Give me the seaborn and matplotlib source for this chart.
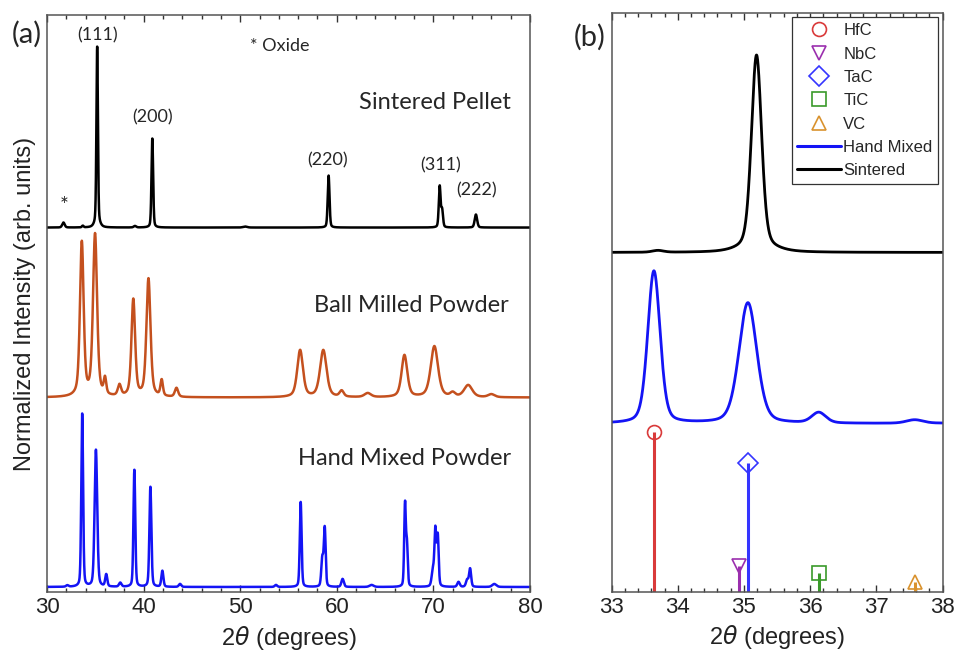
import numpy as np
import pandas as pd
import matplotlib.pyplot as plt
import seaborn as sns
from matplotlib.lines import Line2D
from matplotlib.ticker import MultipleLocator

#%% peak lists: 2theta, height (arb.), fwhm (deg)

sint_pos = [31.7, 33.7, 35.19, 35.2, 39.1, 40.9, 50.5, 59.15, 70.65, 70.9, 74.4]
sint_h = [5, 1.7, 176, 5, 1.5, 89, 1, 52, 41, 17, 13]
sint_w = [0.3, 0.2, 0.18, 0.6, 0.3, 0.2, 0.5, 0.22, 0.22, 0.22, 0.3]

ball_pos = [33.6, 34.97, 36.0, 37.5, 38.93, 40.5, 41.87, 43.4, 56.2, 58.6, 60.5,
            63.2, 67.0, 70.1, 72.0, 73.6, 76.0]
ball_h = [154, 162, 16, 11, 97, 118, 16, 9, 47, 47, 6, 4, 42, 51, 4, 12, 3]
ball_w = [0.45, 0.5, 0.3, 0.4, 0.45, 0.5, 0.3, 0.4, 0.7, 0.8, 0.5, 0.8, 0.7, 0.9,
          0.6, 1.0, 0.8]

hand_pos = [32.1, 33.64, 35.06, 36.13, 37.58, 39.04, 40.7, 41.94, 43.77, 53.7,
            56.26, 58.5, 58.75, 60.6, 63.6, 67.06, 67.26, 69.95, 70.2, 70.45,
            72.6, 73.5, 73.8, 76.3]
hand_h = [1.5, 173, 137, 12, 4, 117, 100, 16, 3, 2, 85, 28, 58, 8, 2, 82, 40,
          16, 55, 50, 5, 7, 18, 3]
hand_w = [0.3, 0.22, 0.32, 0.25, 0.3, 0.22, 0.24, 0.25, 0.3, 0.3, 0.22, 0.25,
          0.22, 0.3, 0.5, 0.2, 0.2, 0.3, 0.22, 0.22, 0.3, 0.3, 0.25, 0.5]

# offsets of the stacked patterns
base_a = {'Sintered Pellet': 365, 'Ball Milled Powder': 195, 'Hand Mixed Powder': 5.5}
base_b = {'Hand Mixed': 168, 'Sintered': 339}
scale_b = {'Hand Mixed': 0.88, 'Sintered': 1.09}

# reference carbide lines, panel (b)
ref_names = ['HfC', 'NbC', 'TaC', 'TiC', 'VC']
ref_pos = [33.64, 34.93, 35.06, 36.13, 37.59]
ref_int = [160, 26, 129, 18.7, 10.3]
ref_colors = ['#d93a3a', '#9b2fae', '#3535ff', '#3a9a2a', '#d9922e']
ref_markers = ['o', 'v', 'D', 's', '^']

c_sint = 'black'
c_ball = '#c4501e'
c_hand = '#1414f5'


def perfil(x, pos, h, w, eta=0.5):
    y = np.zeros_like(x)
    for p, a, fw in zip(pos, h, w):
        d = (x - p) / fw
        g = np.exp(-4 * np.log(2) * d ** 2)
        l = 1 / (1 + 4 * d ** 2)
        y += a * (eta * l + (1 - eta) * g)
    return y


#%% figure
sns.set_style('ticks')
plt.rcParams['font.family'] = ['Liberation Sans', 'DejaVu Sans']
plt.rcParams['mathtext.fontset'] = 'dejavusans'

fig = plt.figure(figsize=(9.56, 6.62), dpi=100)
ax1 = fig.add_axes([0.0492, 0.105, 0.5052, 0.873])
ax2 = fig.add_axes([0.6397, 0.106, 0.3462, 0.874])

xa = np.linspace(30, 80, 6001)
df_a = pd.DataFrame({
    'x': np.concatenate([xa] * 3),
    'y': np.concatenate([
        base_a['Sintered Pellet'] + perfil(xa, sint_pos, sint_h, sint_w, 0.3),
        base_a['Ball Milled Powder'] + perfil(xa, ball_pos, ball_h, ball_w, 0.5),
        base_a['Hand Mixed Powder'] + perfil(xa, hand_pos, hand_h, hand_w, 0.3)]),
    'muestra': np.repeat(['Sintered Pellet', 'Ball Milled Powder', 'Hand Mixed Powder'], len(xa))
})
sns.lineplot(data=df_a, x='x', y='y', hue='muestra', estimator=None, sort=False,
             palette=[c_sint, c_ball, c_hand], linewidth=1.8, legend=False, ax=ax1)

xb = np.linspace(33, 38, 3001)
df_b = pd.DataFrame({
    'x': np.concatenate([xb] * 2),
    'y': np.concatenate([
        base_b['Hand Mixed'] + scale_b['Hand Mixed'] * perfil(xb, hand_pos, hand_h, hand_w, 0.3),
        base_b['Sintered'] + scale_b['Sintered'] * perfil(xb, sint_pos, sint_h, sint_w, 0.3)]),
    'muestra': np.repeat(['Hand Mixed', 'Sintered'], len(xb))
})
sns.lineplot(data=df_b, x='x', y='y', hue='muestra', estimator=None, sort=False,
             palette=[c_hand, c_sint], linewidth=2.0, legend=False, ax=ax2)

for p, h, c, m in zip(ref_pos, ref_int, ref_colors, ref_markers):
    ax2.vlines(p, 0, h, color=c, linewidth=2.2)
    ax2.plot([p], [h], marker=m, ms=10, mfc='none', mec=c, mew=1.2, ls='none')

#%% axes styling
for ax in (ax1, ax2):
    ax.set_ylim(0, 578)
    ax.set_yticks([])
    ax.set_ylabel('')
    ax.tick_params(axis='x', which='both', direction='in', top=True, labelsize=16,
                   colors='#333333', labelcolor='#222222')
    ax.tick_params(axis='x', which='major', length=5, width=1)
    ax.tick_params(axis='x', which='minor', length=3, width=1)
    for s in ax.spines.values():
        s.set_color('#555555')
        s.set_linewidth(1.1)
    ax.set_xlabel(r'2$\theta$ (degrees)', fontsize=17, color='#222222')

ax1.set_xlim(30, 80)
ax1.xaxis.set_major_locator(MultipleLocator(10))
ax1.xaxis.set_minor_locator(MultipleLocator(2))
ax1.set_ylabel('Normalized Intensity (arb. units)', fontsize=17, color='#222222', labelpad=8)

ax2.set_xlim(33, 38)
ax2.xaxis.set_major_locator(MultipleLocator(1))
ax2.xaxis.set_minor_locator(MultipleLocator(0.2))

#%% annotations panel (a)
fa = ['Lato', 'DejaVu Sans']
ax1.text(35.2, 557, '(111)', fontsize=13, family=fa, ha='center', va='center')
ax1.text(54.1, 547, '* Oxide', fontsize=13, family=fa, ha='center', va='center')
ax1.text(40.9, 475, '(200)', fontsize=13, family=fa, ha='center', va='center')
ax1.text(59.0, 432, '(220)', fontsize=13, family=fa, ha='center', va='center')
ax1.text(70.7, 427, '(311)', fontsize=13, family=fa, ha='center', va='center')
ax1.text(74.5, 402, '(222)', fontsize=13, family=fa, ha='center', va='center')
ax1.text(31.76, 387, '*', fontsize=15, family=fa, ha='center', va='center')
ax1.text(70.2, 490, 'Sintered Pellet', fontsize=17, family=fa, ha='center', va='center')
ax1.text(67.75, 287, 'Ball Milled Powder', fontsize=17, family=fa, ha='center', va='center')
ax1.text(67.06, 134, 'Hand Mixed Powder', fontsize=17, family=fa, ha='center', va='center')

fig.text(27 / 956, 1 - 34 / 662, '(a)', fontsize=21, family=fa, ha='center', va='center')
fig.text(590 / 956, 1 - 37 / 662, '(b)', fontsize=21, family=fa, ha='center', va='center')

#%% legend panel (b)
handles = [Line2D([], [], ls='none', marker=m, ms=10, mfc='none', mec=c, mew=1.2)
           for m, c in zip(ref_markers, ref_colors)]
handles += [Line2D([], [], color=c_hand, lw=2.2), Line2D([], [], color=c_sint, lw=2.2)]
labels = ref_names + ['Hand Mixed', 'Sintered']
leg = ax2.legend(handles, labels, loc='upper right', fontsize=12, frameon=True,
                 fancybox=False, edgecolor='#333333', framealpha=1,
                 handlelength=2.6, handletextpad=0.15, labelspacing=0.5,
                 borderpad=0.35, borderaxespad=0.25)
leg.get_frame().set_linewidth(0.9)

fig.savefig('out.png', dpi=100)
